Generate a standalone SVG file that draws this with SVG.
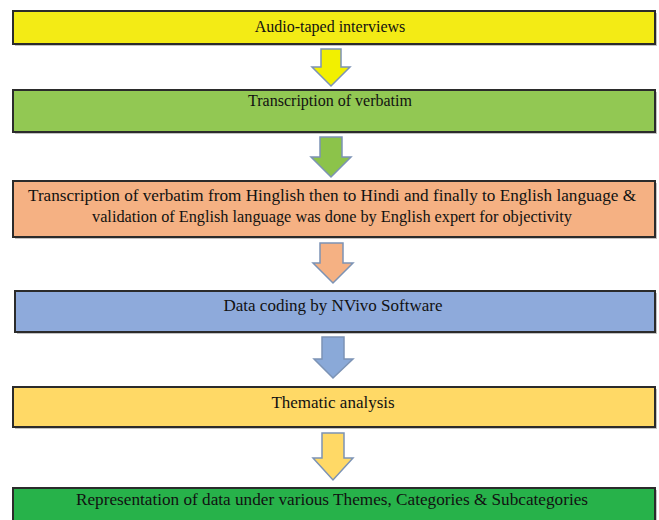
<svg xmlns="http://www.w3.org/2000/svg" width="659" height="520" viewBox="0 0 659 520">
<style>
.box{stroke:#2b2b2b;stroke-width:2}
.shadow{fill:#9a9a9a;opacity:0.6}
.arr{stroke:#7c93b5;stroke-width:1.5;stroke-linejoin:miter}
.t{font-family:'Liberation Serif','DejaVu Serif','Times New Roman',serif;font-size:16px;fill:#111;text-anchor:middle}
.l{font-size:17px}
</style>
<rect width="659" height="520" fill="#ffffff"/>
<g id="node1">
<rect class="shadow" x="15" y="13" width="642" height="33"/>
<rect class="box" x="13" y="11" width="642" height="33" fill="#f3eb15"/>
<text class="t" x="330" y="32">Audio-taped interviews</text>
</g>
<g id="node2">
<rect class="shadow" x="15" y="92" width="642" height="42"/>
<rect class="box" x="13" y="90" width="642" height="42" fill="#92c853"/>
<text class="t" x="330" y="106">Transcription  of verbatim</text>
</g>
<g id="node3">
<rect class="shadow" x="15" y="183" width="642" height="56"/>
<rect class="box" x="13" y="181" width="642" height="56" fill="#f5b183"/>
<text class="t" x="332" y="201" textLength="608" lengthAdjust="spacingAndGlyphs">Transcription of verbatim from Hinglish then to Hindi and finally to English language &amp;</text>
<text class="t" x="332" y="222" textLength="480" lengthAdjust="spacingAndGlyphs">validation of English language was done by English expert for objectivity</text>
</g>
<g id="node4">
<rect class="shadow" x="17" y="293" width="640" height="41"/>
<rect class="box" x="15" y="291" width="640" height="41" fill="#8eaadb"/>
<text class="t l" x="333" y="311">Data coding by NVivo Software</text>
</g>
<g id="node5">
<rect class="shadow" x="15" y="389" width="642" height="40"/>
<rect class="box" x="13" y="387" width="642" height="40" fill="#ffd966"/>
<text class="t l" x="333" y="408">Thematic analysis</text>
</g>
<g id="node6">
<rect class="shadow" x="15" y="490" width="642" height="40"/>
<rect class="box" x="13" y="488" width="642" height="40" fill="#27b24a"/>
<text class="t" x="332" y="505" textLength="512" lengthAdjust="spacingAndGlyphs">Representation of data under various Themes, Categories &amp; Subcategories</text>
</g>
<g id="connectors">
<polygon class="arr" fill="#f2f000" points="321,49 341,49 341,67 350,67 331,86 312,67 321,67"/>
<polygon class="arr" fill="#8cc34a" points="320,137 342,137 342,157 351,157 331,177 311,157 320,157"/>
<polygon class="arr" fill="#f5b183" points="320,243 343,243 343,263 353,263 333,283 313,263 320,263"/>
<polygon class="arr" fill="#8aa9d8" points="322,337 344,337 344,359 353,359 333,378 314,359 322,359"/>
<polygon class="arr" fill="#ffd966" points="322,433 344,433 344,458 353,458 333,480 313,458 322,458"/>
</g>
</svg>
